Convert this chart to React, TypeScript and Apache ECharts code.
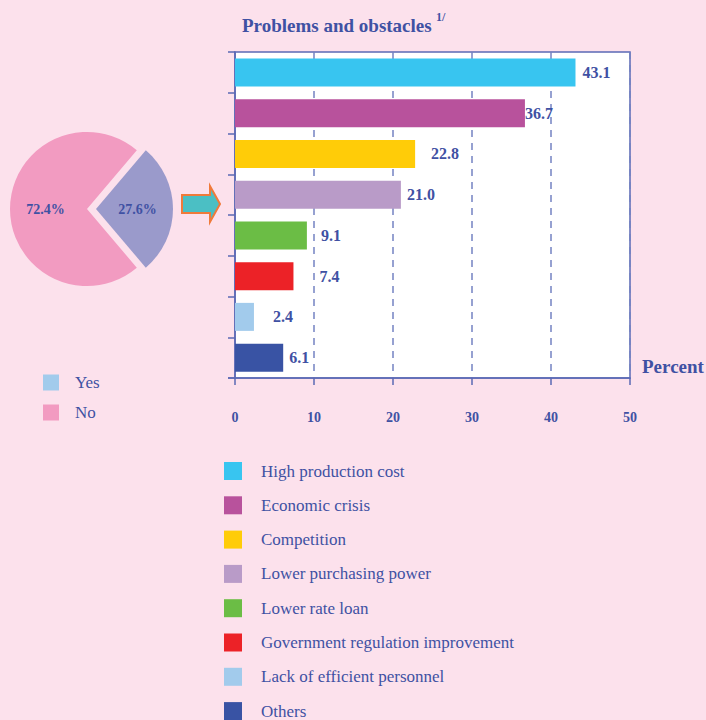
import React, { useEffect, useRef } from "react";
import * as echarts from "echarts";

const pieNames = ["Yes", "No"];
const pieValues = [27.6, 72.4];
const pieColors = ["#9a9acb", "#f29bc1"];
const pieLegendColors = ["#a2cbec", "#f29bc1"];

const categories = [
  "High production cost",
  "Economic crisis",
  "Competition",
  "Lower purchasing power",
  "Lower rate loan",
  "Government regulation improvement",
  "Lack of efficient personnel",
  "Others",
];
const values = [43.1, 36.7, 22.8, 21.0, 9.1, 7.4, 2.4, 6.1];
const barColors = ["#38c5f0", "#b8529c", "#ffcc08", "#b99bc8", "#6bbd45", "#ec2227", "#a2cbec", "#3953a4"];
const labelGaps = [7, 0, 16, 6, 14, 26, 19, 6];
const xTicks = { min: 0, max: 50, interval: 10 };

const TEXT = "#3f51a3";
const AXIS = "#5b69b5";
const SERIF = "Liberation Serif";

export default function App() {
  const ref = useRef<HTMLDivElement>(null);
  useEffect(() => {
    if (!ref.current) return;
    const chart = echarts.init(ref.current, null, { renderer: "svg" });
    const barSeries = categories.map((name, i) => ({
      type: "bar",
      name,
      data: categories.map((_, j) => (j === i ? values[i] : null)),
      barWidth: 28,
      barGap: "-100%",
      itemStyle: { color: barColors[i] },
      label: {
        show: true,
        position: "right",
        distance: labelGaps[i],
        formatter: (p: any) => p.value.toFixed(1),
        color: TEXT,
        fontFamily: SERIF,
        fontWeight: "bold",
        fontSize: 16,
      },
    }));
    chart.setOption({
      animation: false,
      backgroundColor: "#fce1ec",
      grid: {
        left: 235,
        top: 52,
        width: 395,
        height: 326,
        show: true,
        backgroundColor: "#ffffff",
        borderColor: AXIS,
        borderWidth: 1.5,
      },
      xAxis: {
        type: "value",
        min: xTicks.min,
        max: xTicks.max,
        interval: xTicks.interval,
        axisLine: { show: true, lineStyle: { color: AXIS, width: 1.5 } },
        axisTick: { show: true, length: 7, lineStyle: { color: AXIS, width: 1.5 } },
        axisLabel: { margin: 32, color: TEXT, fontFamily: SERIF, fontWeight: "bold", fontSize: 14 },
        splitLine: { show: true, lineStyle: { color: "#7483c2", type: [7, 6], width: 1.5 } },
      },
      yAxis: {
        type: "category",
        data: categories,
        inverse: true,
        axisLine: { show: true, lineStyle: { color: AXIS, width: 1.5 } },
        axisTick: { show: true, length: 7, lineStyle: { color: AXIS, width: 1.5 } },
        axisLabel: { show: false },
        splitLine: { show: false },
      },
      legend: [
        {
          data: pieNames.map((n, i) => ({ name: n, itemStyle: { color: pieLegendColors[i] } })),
          orient: "vertical",
          left: 38,
          top: 369,
          padding: 5,
          itemWidth: 16,
          itemHeight: 16,
          itemGap: 13,
          icon: "rect",
          selectedMode: false,
          textStyle: { color: TEXT, fontFamily: SERIF, fontSize: 17, lineHeight: 16, padding: [0, 0, 0, 11] },
        },
        {
          data: categories,
          orient: "vertical",
          left: 219,
          top: 457,
          height: 320,
          padding: 5,
          itemWidth: 18,
          itemHeight: 18,
          itemGap: 16.3,
          icon: "rect",
          selectedMode: false,
          textStyle: { color: TEXT, fontFamily: SERIF, fontSize: 17, lineHeight: 18, padding: [0, 0, 0, 14] },
        },
      ],
      series: [
        {
          type: "pie",
          center: [87, 209],
          radius: 77,
          startAngle: (pieValues[0] / 100) * 180,
          selectedMode: "single",
          selectedOffset: 9,
          data: pieNames.map((n, i) => ({
            name: n,
            value: pieValues[i],
            selected: i === 0,
            itemStyle: { color: pieColors[i] },
          })),
          label: {
            show: true,
            position: "inside",
            formatter: (p: any) => p.value.toFixed(1) + "%",
            color: TEXT,
            fontFamily: SERIF,
            fontWeight: "bold",
            fontSize: 14,
          },
          labelLine: { show: false },
        },
        ...barSeries,
      ],
      graphic: [
        {
          type: "text",
          left: 242,
          top: 16,
          style: { text: "Problems and obstacles", fill: TEXT, font: `bold 19px ${SERIF}` },
        },
        {
          type: "text",
          left: 436,
          top: 11,
          style: { text: "1/", fill: TEXT, font: `bold 12px ${SERIF}` },
        },
        {
          type: "text",
          left: 642,
          top: 357,
          style: { text: "Percent", fill: TEXT, font: `bold 19px ${SERIF}` },
        },
        {
          type: "line",
          shape: { x1: 228, y1: 378, x2: 235, y2: 378 },
          style: { stroke: AXIS, lineWidth: 1.5 },
        },
        {
          type: "polygon",
          shape: {
            points: [
              [182, 195],
              [210, 195],
              [210, 186],
              [220, 204],
              [210, 222],
              [210, 213],
              [182, 213],
            ],
          },
          style: { fill: "#4bbfc4", stroke: "#f07a3a", lineWidth: 2 },
        },
      ],
    });
    return () => chart.dispose();
  }, []);
  return <div ref={ref} style={{ position: "absolute", left: 0, top: 0, width: 706, height: 720 }} />;
}
